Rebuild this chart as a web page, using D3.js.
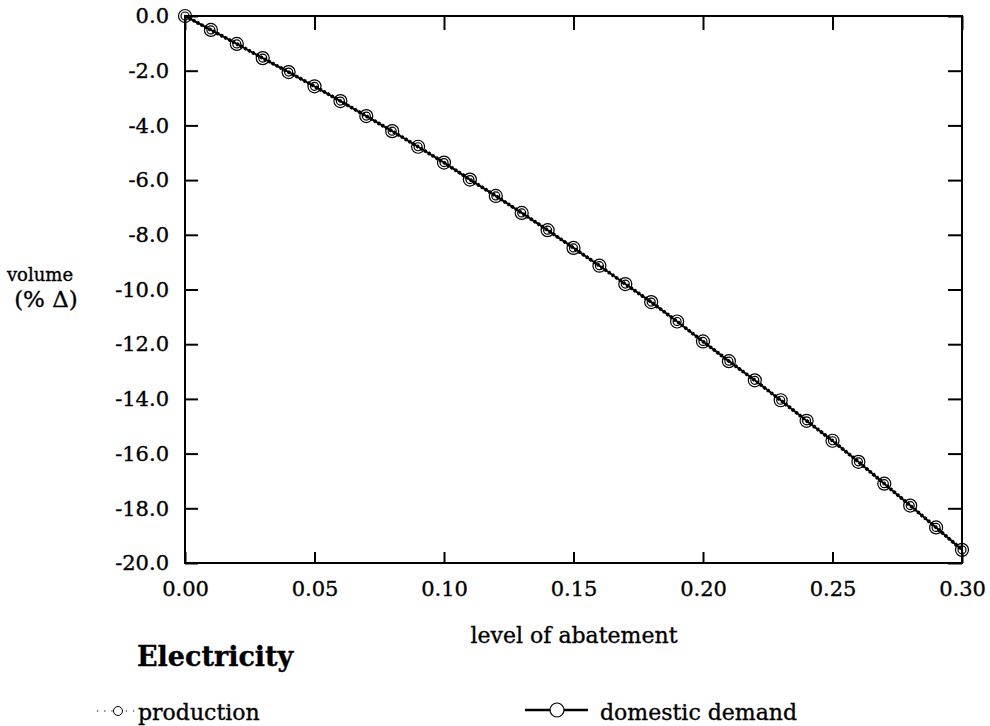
<!DOCTYPE html>
<html>
<head>
<meta charset="utf-8">
<script src="https://cdn.jsdelivr.net/npm/d3@7"></script>
<style>
  body { margin: 0; background: #fff; }
  text { font-family: "DejaVu Serif", serif; fill: #000; stroke: #000; stroke-width: 0.35; }
</style>
</head>
<body>
<script>
// abatement levels and volume changes (% delta)
var abatement = [0.00, 0.01, 0.02, 0.03, 0.04, 0.05, 0.06, 0.07, 0.08, 0.09, 0.10,
                 0.11, 0.12, 0.13, 0.14, 0.15, 0.16, 0.17, 0.18, 0.19, 0.20,
                 0.21, 0.22, 0.23, 0.24, 0.25, 0.26, 0.27, 0.28, 0.29, 0.30];
var production = [0.0, -0.51, -1.02, -1.54, -2.05, -2.57, -3.11, -3.66, -4.21, -4.78, -5.36,
                  -5.98, -6.58, -7.2, -7.83, -8.48, -9.13, -9.8, -10.46, -11.17, -11.9,
                  -12.62, -13.32, -14.05, -14.8, -15.53, -16.3, -17.1, -17.9, -18.7, -19.52];
var demand = [0.0, -0.51, -1.02, -1.54, -2.05, -2.57, -3.11, -3.66, -4.21, -4.78, -5.36,
              -5.98, -6.58, -7.2, -7.83, -8.48, -9.13, -9.8, -10.46, -11.17, -11.9,
              -12.62, -13.32, -14.05, -14.8, -15.53, -16.3, -17.1, -17.9, -18.7, -19.52];
var xTicks = [0, 0.05, 0.10, 0.15, 0.20, 0.25, 0.30];
var yTicks = [0, -2, -4, -6, -8, -10, -12, -14, -16, -18, -20];

(function() {
var width = 990, height = 726;
var svg = d3.select('body').append('svg').attr('width', width).attr('height', height);

var pLeft = 185, pRight = 962, pTop = 16, pBottom = 563;
var xScale = d3.scaleLinear().domain([0, 0.3]).range([pLeft, pRight]);
var yScale = d3.scaleLinear().domain([-20, 0]).range([pBottom, pTop]);

// frame
svg.append('rect')
    .attr('x', pLeft).attr('y', pTop)
    .attr('width', pRight - pLeft).attr('height', pBottom - pTop)
    .attr('fill', 'none').attr('stroke', '#000').attr('stroke-width', 2);

function styleAxis(g) {
    g.select('.domain').remove();
    g.selectAll('.tick line').attr('stroke', '#000').attr('stroke-width', 2);
    g.selectAll('.tick text').attr('font-size', 21).attr('fill', '#000')
        .attr('font-family', '"DejaVu Serif", serif');
}

svg.append('g').attr('transform', 'translate(' + pLeft + ',0)')
    .call(d3.axisLeft(yScale).tickValues(yTicks).tickSize(-13).tickPadding(16)
        .tickFormat(function(d) { return d.toFixed(1); }))
    .call(styleAxis);
svg.append('g').attr('transform', 'translate(' + pRight + ',0)')
    .call(d3.axisRight(yScale).tickValues(yTicks).tickSize(-14).tickFormat(''))
    .call(styleAxis);
svg.append('g').attr('transform', 'translate(0,' + pBottom + ')')
    .call(d3.axisBottom(xScale).tickValues(xTicks).tickSize(-11).tickPadding(18)
        .tickFormat(function(d) { return d.toFixed(2); }))
    .call(styleAxis);
svg.append('g').attr('transform', 'translate(0,' + pTop + ')')
    .call(d3.axisTop(xScale).tickValues(xTicks).tickSize(-14).tickFormat(''))
    .call(styleAxis);

// axis titles
svg.append('text').attr('x', 574).attr('y', 643).attr('text-anchor', 'middle')
    .attr('font-size', 22).text('level of abatement');
svg.append('text').attr('x', 40).attr('y', 281).attr('text-anchor', 'middle')
    .attr('font-size', 18).text('volume');
svg.append('text').attr('x', 46).attr('y', 307).attr('text-anchor', 'middle')
    .attr('font-size', 23).text('(% \u0394)');

var prodData = abatement.map(function(a, i) { return { x: a, y: production[i] }; });
var demData = abatement.map(function(a, i) { return { x: a, y: demand[i] }; });

var line = d3.line()
    .x(function(d) { return xScale(d.x); })
    .y(function(d) { return yScale(d.y); });

svg.append('path').attr('d', line(demData))
    .attr('fill', 'none').attr('stroke', '#000').attr('stroke-width', 2);
svg.append('path').attr('d', line(prodData))
    .attr('fill', 'none').attr('stroke', '#000').attr('stroke-width', 3.6)
    .attr('stroke-dasharray', '2.5,2');

svg.append('g').selectAll('circle').data(demData).enter().append('circle')
    .attr('cx', function(d) { return xScale(d.x); })
    .attr('cy', function(d) { return yScale(d.y); })
    .attr('r', 6.5).attr('fill', 'none').attr('stroke', '#000').attr('stroke-width', 1.2);
svg.append('g').selectAll('circle').data(prodData).enter().append('circle')
    .attr('cx', function(d) { return xScale(d.x); })
    .attr('cy', function(d) { return yScale(d.y); })
    .attr('r', 4).attr('fill', 'none').attr('stroke', '#000').attr('stroke-width', 1.2);

// legend
svg.append('text').attr('x', 137).attr('y', 666).attr('font-size', 27)
    .attr('font-weight', 'bold').text('Electricity');

svg.append('line').attr('x1', 97).attr('x2', 136).attr('y1', 711).attr('y2', 711)
    .attr('stroke', '#000').attr('stroke-width', 1.2).attr('stroke-dasharray', '1.2,6');
svg.append('circle').attr('cx', 118).attr('cy', 711).attr('r', 4.5)
    .attr('fill', '#fff').attr('stroke', '#000').attr('stroke-width', 1);
svg.append('text').attr('x', 138).attr('y', 720).attr('font-size', 22).text('production');

svg.append('line').attr('x1', 525).attr('x2', 588).attr('y1', 710).attr('y2', 710)
    .attr('stroke', '#000').attr('stroke-width', 2.5);
svg.append('circle').attr('cx', 557).attr('cy', 710).attr('r', 7)
    .attr('fill', '#fff').attr('stroke', '#000').attr('stroke-width', 1.2);
svg.append('text').attr('x', 600).attr('y', 720).attr('font-size', 22).text('domestic demand');
})();
</script>
</body>
</html>
